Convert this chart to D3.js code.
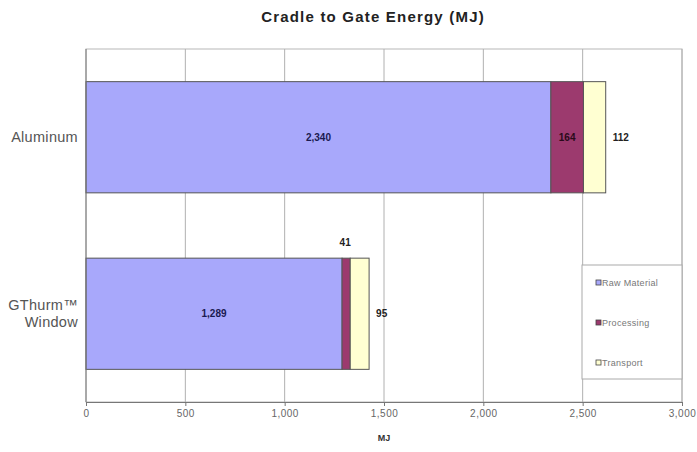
<!DOCTYPE html>
<html>
<head>
<meta charset="utf-8">
<script src="https://cdn.jsdelivr.net/npm/d3@7"></script>
<style>
  html, body { margin: 0; padding: 0; background: #fff; }
  svg { display: block; font-family: "Liberation Sans", Arial, sans-serif; }
</style>
</head>
<body>
<svg id="chart" width="697" height="452"></svg>
<script>
// Cradle-to-gate energy by stage (MJ)
const categories = ["Aluminum", "GThurm™ Window"];
const stages = ["Raw Material", "Processing", "Transport"];
const rawMaterial = [2340, 1289];
const processing = [164, 41];
const transport = [112, 95];
const xTicks = [0, 500, 1000, 1500, 2000, 2500, 3000];
const colors = ["#a8a8fb", "#9c3a6e", "#ffffd2"];

const svg = d3.select("#chart");
const m = { left: 86, right: 682, top: 49, bottom: 402 };

const x = d3.scaleLinear().domain([0, 3000]).range([m.left, m.right]);
const y = d3.scaleBand().domain(categories).range([m.top, m.bottom])
  .paddingInner(0.37).paddingOuter(0.185);

const rows = categories.map((c, i) => ({ cat: c, vals: [rawMaterial[i], processing[i], transport[i]] }));
const stacked = d3.stack().keys([0, 1, 2]).value((d, k) => d.vals[k])(rows);

// Title
svg.append("text").attr("x", 373).attr("y", 22).attr("text-anchor", "middle")
  .attr("font-size", 15).attr("font-weight", "bold").attr("fill", "#222")
  .attr("letter-spacing", 1.2)
  .text("Cradle to Gate Energy (MJ)");

// Plot frame and vertical gridlines
svg.append("rect").attr("x", m.left).attr("y", m.top)
  .attr("width", m.right - m.left).attr("height", m.bottom - m.top)
  .attr("fill", "#fff").attr("stroke", "#b8b8b8");

svg.append("g").selectAll("line").data(xTicks.slice(1)).join("line")
  .attr("x1", d => x(d)).attr("x2", d => x(d))
  .attr("y1", m.top).attr("y2", m.bottom)
  .attr("stroke", "#b0b0b0").attr("stroke-width", 1);

// Bars
svg.append("g").selectAll("g").data(stacked).join("g")
  .attr("fill", (d, i) => colors[i])
  .selectAll("rect").data(d => d).join("rect")
  .attr("x", d => x(d[0])).attr("width", d => x(d[1]) - x(d[0]))
  .attr("y", d => y(d.data.cat)).attr("height", y.bandwidth())
  .attr("stroke", "#555").attr("stroke-width", 1);

// X axis
const xAxis = svg.append("g").attr("transform", `translate(0,${m.bottom})`)
  .call(d3.axisBottom(x).tickValues(xTicks).tickSize(4).tickFormat(d3.format(",")));
xAxis.select(".domain").attr("stroke", "#777");
xAxis.selectAll(".tick line").attr("stroke", "#777");
xAxis.selectAll(".tick text").attr("font-size", 10).attr("fill", "#666")
  .attr("letter-spacing", 0.5)
  .attr("font-family", "Liberation Sans, Arial, sans-serif").attr("dy", "0.8em");

// Left axis line
svg.append("line").attr("x1", m.left).attr("x2", m.left)
  .attr("y1", m.top).attr("y2", m.bottom).attr("stroke", "#777");

svg.append("text").attr("x", 384).attr("y", 441).attr("text-anchor", "middle")
  .attr("font-size", 9).attr("font-weight", "bold").attr("fill", "#333").text("MJ");

// Category labels
const catLines = [["Aluminum"], ["GThurm™", "Window"]];
categories.forEach((c, i) => {
  const lines = catLines[i];
  const cy = y(c) + y.bandwidth() / 2;
  const t = svg.append("text").attr("text-anchor", "end").attr("font-size", 14.5)
    .attr("fill", "#555").attr("letter-spacing", 0.3);
  lines.forEach((ln, j) => {
    t.append("tspan").attr("x", 78)
      .attr("y", cy + 5 + (j - (lines.length - 1) / 2) * 17)
      .text(ln);
  });
});

// Value labels
const fmt = d3.format(",");
const lab = svg.append("g").attr("font-size", 10).attr("font-weight", "bold").attr("fill", "#222");
rows.forEach((r, i) => {
  const cy = y(r.cat) + y.bandwidth() / 2;
  const s = stacked.map(sr => sr[i]);
  // raw material, centred
  lab.append("text").attr("x", (x(s[0][0]) + x(s[0][1])) / 2).attr("y", cy + 3.5)
    .attr("text-anchor", "middle").attr("fill", "#1a1a50").text(fmt(r.vals[0]));
  // processing
  if (x(s[1][1]) - x(s[1][0]) > 20) {
    lab.append("text").attr("x", (x(s[1][0]) + x(s[1][1])) / 2).attr("y", cy + 3.5)
      .attr("text-anchor", "middle").attr("fill", "#2a0a1a").text(fmt(r.vals[1]));
  } else {
    lab.append("text").attr("x", (x(s[1][0]) + x(s[1][1])) / 2 - 1).attr("y", y(r.cat) - 12)
      .attr("text-anchor", "middle").text(fmt(r.vals[1]));
  }
  // transport, right of bar
  lab.append("text").attr("x", x(s[2][1]) + 7).attr("y", cy + 3.5)
    .attr("text-anchor", "start").text(fmt(r.vals[2]));
});

// Legend
const lg = svg.append("g");
lg.append("rect").attr("x", 582).attr("y", 265).attr("width", 100).attr("height", 114)
  .attr("fill", "#fff").attr("stroke", "#aaa");
stages.forEach((s, i) => {
  const ly = 284 + i * 40;
  lg.append("rect").attr("x", 596).attr("y", ly - 4).attr("width", 5).attr("height", 5)
    .attr("fill", colors[i]).attr("stroke", "#444").attr("stroke-width", 0.8);
  lg.append("text").attr("x", 602).attr("y", ly + 2).attr("font-size", 9)
    .attr("letter-spacing", 0.3).attr("fill", "#777").text(s);
});
</script>
</body>
</html>
